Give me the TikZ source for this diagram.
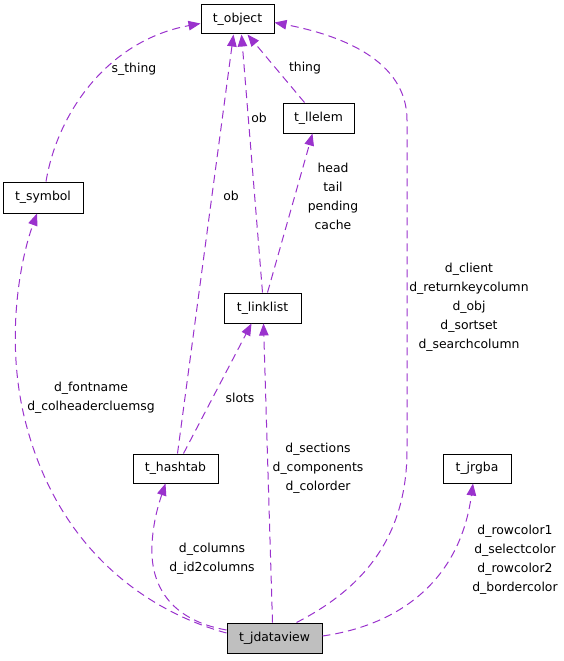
\documentclass[tikz,border=0pt]{standalone}
\usepackage{fontspec}
\setmainfont{DejaVu Sans}
\usetikzlibrary{arrows.meta}
\definecolor{edgecol}{RGB}{154,50,205}
\definecolor{boxgray}{RGB}{191,191,191}
\begin{document}
\begin{tikzpicture}[x=1pt,y=-1pt,
  cls/.style={draw=black,line width=1pt,fill=white,inner sep=0pt,
    font=\fontsize{12.4pt}{15pt}\selectfont},
  lbl/.style={inner sep=0pt,align=center,font=\fontsize{12.4pt}{19pt}\selectfont},
  edge/.style={draw=edgecol,line width=1pt,dash pattern=on 8pt off 5pt,
    -{Triangle[length=12pt,width=9.5pt,fill=edgecol]}}]
\useasboundingbox (0,0) rectangle (564,661);
% classes
\node[cls,minimum width=73pt,minimum height=29pt] (object) at (237.5,19.5) {t\_object};
\node[cls,minimum width=71pt,minimum height=30pt] (llelem) at (318.5,118) {t\_llelem};
\node[cls,minimum width=80pt,minimum height=31pt] (symbol) at (43,197.5) {t\_symbol};
\node[cls,minimum width=77pt,minimum height=30pt] (linklist) at (262.5,308) {t\_linklist};
\node[cls,minimum width=85pt,minimum height=29pt] (hashtab) at (175.5,468.5) {t\_hashtab};
\node[cls,minimum width=68pt,minimum height=29pt] (jrgba) at (477,468.5) {t\_jrgba};
\node[cls,fill=boxgray,minimum width=95pt,minimum height=30pt] (jdataview) at (274.5,638) {t\_jdataview};
% edges
\draw[edge] ([xshift=3pt]symbol.north) .. controls (58,110) and (110,40) .. ([yshift=-4pt]object.west);
\draw[edge] ([xshift=2pt]hashtab.north) -- ([xshift=-4pt]object.south);
\draw[edge] (linklist.north) -- ([xshift=4pt]object.south);
\draw[edge] ([xshift=5pt]linklist.north) -- ([xshift=-6pt]llelem.south);
\draw[edge] ([xshift=-14pt]llelem.north) -- ([xshift=10pt]object.south);
\draw[edge] ([xshift=8pt]hashtab.north) -- ([xshift=-11pt]linklist.south);
\draw[edge] ([xshift=-2pt]jdataview.north) -- ([xshift=1pt]linklist.south);
\draw[edge] ([yshift=8pt]jdataview.west) .. controls (170,620) and (150,585) .. (152,545)
  .. controls (153,520) and (160,500) .. ([xshift=-10pt]hashtab.south);
\draw[edge] ([yshift=5pt]jdataview.west) .. controls (160,615) and (60,560) .. (25,420)
  .. controls (5,340) and (20,260) .. ([xshift=-6pt]symbol.south);
\draw[edge] ([xshift=22pt]jdataview.north) .. controls (360,590) and (407,540) .. (407,450)
  -- (407,120) .. controls (407,60) and (340,35) .. ([yshift=-3pt]object.east);
\draw[edge] ([yshift=2pt]jdataview.east) .. controls (400,625) and (460,580) .. ([xshift=-4pt]jrgba.south);
% labels
\node[lbl] (l1) at (134,69) {s\_thing};
\node[lbl] (l2) at (305,68) {thing};
\node[lbl] (l3) at (259,118) {ob};
\node[lbl] (l4) at (231,196) {ob};
\node[lbl] (l5) at (333,196.5) {head\\tail\\pending\\cache};
\node[lbl] (l6) at (469,307) {d\_client\\d\_returnkeycolumn\\d\_obj\\d\_sortset\\d\_searchcolumn};
\node[lbl] (l7) at (91,397.5) {d\_fontname\\d\_colheadercluemsg};
\node[lbl] (l8) at (240,398) {slots};
\node[lbl] (l9) at (318,468.5) {d\_sections\\d\_components\\d\_colorder};
\node[lbl] (l10) at (212,559) {d\_columns\\d\_id2columns};
\node[lbl] (l11) at (515,559.5) {d\_rowcolor1\\d\_selectcolor\\d\_rowcolor2\\d\_bordercolor};
\end{tikzpicture}
\end{document}
